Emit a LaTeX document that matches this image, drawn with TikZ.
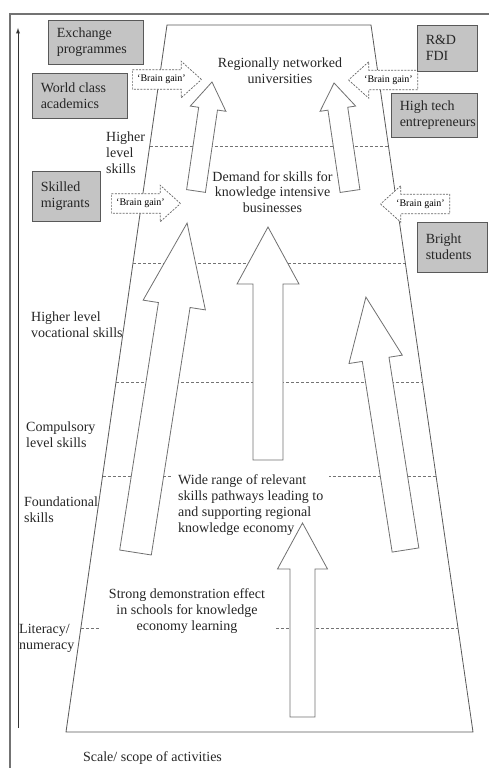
\documentclass[tikz,border=0pt]{standalone}
\usepackage{fontspec}
\setmainfont{Liberation Serif}
\usetikzlibrary{calc,shapes.arrows,positioning}

\definecolor{boxgray}{RGB}{196,196,196}
\definecolor{linegray}{RGB}{112,112,112}

\tikzset{
  frame/.style={draw=black!55, line width=1.1pt},
  edge/.style={draw=black!65, line width=0.8pt},
  level/.style={draw=black!55, line width=0.6pt, dash pattern=on 3pt off 2pt},
  bigtext/.style={inner sep=0pt, text=black!85, font=\fontsize{14}{15.8}\selectfont},
  sidetext/.style={bigtext, align=left, anchor=west},
  graybox/.style={draw=black!65, fill=boxgray, line width=0.9pt, inner sep=0pt},
  blockarrow/.style={draw=linegray, fill=white, line width=0.8pt},
  braingain/.style={single arrow, draw=black!60, fill=white, line width=0.7pt,
    dash pattern=on 2pt off 1.3pt, font=\fontsize{10}{12}\selectfont,
    inner xsep=4.5pt, inner ysep=5pt, single arrow head extend=8.5pt,
    single arrow tip angle=84}
}

\begin{document}
\begin{tikzpicture}[x=1pt,y=-1pt]
\useasboundingbox (0,0) rectangle (489,768);

% frame and scale axis
\draw[frame] (10,768) -- (10,14) -- (489,14);
\coordinate (axbot) at (18,728);
\coordinate (axtop) at (18,28);
\draw[-latex, line width=0.9pt, black!80] (axbot) -- (axtop);

% the trapezium
\coordinate (tl) at (167,25);
\coordinate (tr) at (371,25);
\coordinate (br) at (473,732);
\coordinate (bl) at (66,732);
\draw[edge] (tl) -- (tr) -- (br) -- (bl) -- cycle;

% skill levels
\foreach \y [evaluate=\y as \t using (\y-25)/707] in {146,263,382,476,628}
  \draw[level] ($(tl)!\t!(bl)$) -- ($(tr)!\t!(br)$);

% texts inside
\node[bigtext, align=center] (unis) at (280,71) {Regionally networked\\universities};
\node[bigtext, align=center] (demand) at (272.5,192) {Demand for skills for\\knowledge intensive\\businesses};
\node[bigtext, align=left, anchor=west, fill=white, inner xsep=6pt, inner ysep=3pt] (range) at (172,505)
  {Wide range of relevant\\skills pathways leading to\\and supporting regional\\knowledge economy};
\node[bigtext, align=center, fill=white, inner xsep=9pt, inner ysep=2pt] (demo) at (187,611)
  {Strong demonstration effect\\in schools for knowledge\\economy learning};

% texts on the left
\node[sidetext] (hls) at (106,153) {Higher\\level\\skills};
\node[sidetext] (voc) at (31,324.5) {Higher level\\vocational skills};
\node[sidetext] (comp) at (26,435) {Compulsory\\level skills};
\node[sidetext] (found) at (24,510) {Foundational\\skills};
\node[sidetext] (lit) at (19,638.5) {Literacy/\\numeracy};
\node[bigtext] (scale) at (152.5,758) {Scale/ scope of activities};

% block arrows: base x / base y / angle / length / half shaft / half head / head length
\foreach \bx/\by/\ang/\len/\sw/\hw/\hl in {135.5/552.5/-8.9/333.5/16/31.5/83,
    196/191/-8.35/110.2/9.5/18/27, 350/191/8.4/109.2/10/18/26,
    268/460/0/233/15/31/57, 405.5/550/8.9/256/13.5/27/63,
    302.5/717/0/194/12.5/25/46}
  \draw[blockarrow, shift={(\bx,\by)}, rotate=\ang]
    (-\sw,0) -- (-\sw,\hl-\len) -- (-\hw,\hl-\len) -- (0,-\len)
    -- (\hw,\hl-\len) -- (\sw,\hl-\len) -- (\sw,0) -- cycle;

% brain gain
\node[braingain, anchor=tail] (bg1) at (132,79.5) {`Brain gain'};
\node[braingain, anchor=tail] (bg2) at (111,203.5) {`Brain gain'};
\node[braingain, anchor=tail, shape border rotate=180] (bg3) at (418,80) {`Brain gain'};
\node[braingain, anchor=tail, shape border rotate=180] (bg4) at (450,204) {`Brain gain'};

% grey boxes
\node[graybox, minimum width=95pt, minimum height=44pt] (exch) at (95.5,42) {};
\node[sidetext, right=9pt of exch.west] {Exchange\\programmes};
\node[graybox, minimum width=95pt, minimum height=45pt] (world) at (79.5,95.5) {};
\node[sidetext, right=9pt of world.west] {World class\\academics};
\node[graybox, minimum width=68pt, minimum height=50pt] (skilled) at (66,196) {};
\node[sidetext, right=9pt of skilled.west] {Skilled\\migrants};
\node[graybox, minimum width=60pt, minimum height=46pt] (rnd) at (447,48) {};
\node[sidetext, right=9pt of rnd.west] {R\&D\\FDI};
\node[graybox, minimum width=86pt, minimum height=44pt] (tech) at (434,115) {};
\node[sidetext, right=9pt of tech.west] {High tech\\entrepreneurs};
\node[graybox, minimum width=70pt, minimum height=50pt] (bright) at (452,247) {};
\node[sidetext, right=9pt of bright.west] {Bright\\students};

\end{tikzpicture}
\end{document}
